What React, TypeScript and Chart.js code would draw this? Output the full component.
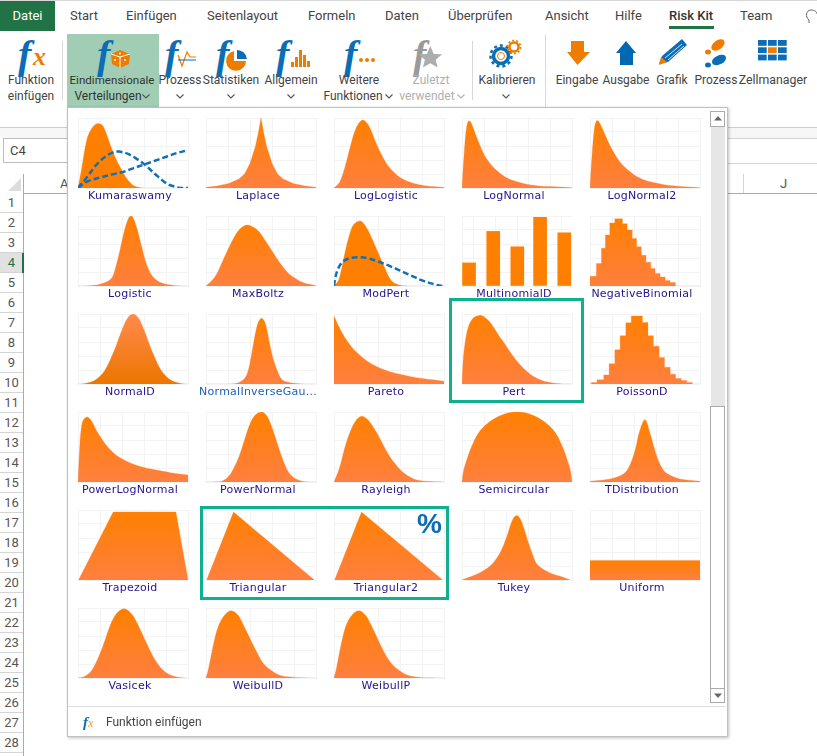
import React, { useEffect, useRef } from "react";
import { Chart, registerables } from "chart.js";

Chart.register(...registerables);

const kumaraswamyX = [0, 3, 8, 12, 16, 19, 23, 30, 35, 40, 45, 50, 55, 60, 100];
const kumaraswamyY = [0, 25, 69, 84, 91, 92, 88, 59, 40, 25, 12, 4, 1, 0, 0];
const kumaraBlueAX = [0, 8, 16, 25, 32, 37, 45, 53, 61, 70, 81, 88, 93, 100];
const kumaraBlueAY = [0, 15, 32, 45, 51, 52, 49, 42, 33, 20, 6, 2, 0, 0];
const kumaraBlueBX = [0, 8, 20, 30, 41, 50, 61, 70, 81, 90, 100];
const kumaraBlueBY = [0, 9, 15, 19, 23, 28, 34, 39, 45, 50, 54];

const laplaceX = [0, 10, 20, 30, 35, 40, 45, 48, 50, 52, 55, 60, 65, 70, 80, 90, 100];
const laplaceY = [1, 3, 6, 13, 20, 35, 60, 82, 100, 82, 60, 35, 20, 13, 6, 3, 1];
const logLogisticX = [0, 5, 10, 15, 20, 26, 32, 38, 45, 50, 60, 70, 80, 90, 100];
const logLogisticY = [0, 8, 30, 60, 85, 97, 88, 65, 42, 30, 15, 8, 4, 2, 1];
const logNormalX = [0, 2, 4, 6, 8, 12, 16, 20, 25, 30, 40, 50, 60, 70, 80, 100];
const logNormalY = [0, 50, 85, 96, 94, 78, 62, 48, 36, 27, 15, 9, 5, 3, 2, 0.5];
const logNormal2X = [0, 2, 4, 6, 8, 12, 16, 20, 25, 30, 40, 50, 60, 70, 80, 100];
const logNormal2Y = [0, 50, 85, 96, 95, 82, 68, 55, 42, 32, 19, 11, 7, 4, 2.5, 0.5];

const logisticX = [0, 10, 20, 30, 34, 38, 42, 46, 48, 50, 54, 58, 62, 66, 70, 75, 80, 90, 100];
const logisticY = [0, 0.5, 2.5, 10, 25, 50, 78, 97, 100, 98, 80, 55, 32, 18, 10, 5, 2.5, 0.5, 0];
const maxBoltzX = [0, 5, 10, 15, 20, 25, 30, 37, 45, 50, 55, 60, 65, 70, 75, 80, 85, 90, 95, 100];
const maxBoltzY = [0, 7, 18, 35, 52, 68, 80, 87, 82, 74, 62, 50, 38, 27, 18, 12, 7, 4, 2, 0.5];
const modPertX = [0, 4, 7, 10, 14, 18, 24, 28, 33, 40, 45, 52, 60, 70, 100];
const modPertY = [0, 8, 25, 48, 73, 88, 93, 87, 73, 48, 30, 8, 1, 0, 0];
const modPertBlueX = [0, 1, 3, 6, 10, 15, 24, 32, 40, 50, 60, 70, 80, 90, 98, 100];
const modPertBlueY = [0, 10, 22, 31, 37, 40, 41, 39, 35, 29, 22, 15, 8, 3, 0, 0];
const multinomialX = [6.4, 28.4, 50.3, 71, 93];
const multinomialY = [33, 78, 56, 98, 76];
const negBinomialX = [0, 5.8, 10.4, 14, 18, 22.5, 29.5, 33.8, 38.4, 42.4, 46.6, 50.9, 55.2, 59.1, 63.7, 68.3, 72.8, 77.7, 100];
const negBinomialY = [14, 32, 54, 73, 90, 96, 89, 80, 68, 56, 44, 34, 25, 18, 13, 8, 5, 0, 0];

const normalDX = [0, 5, 10, 15, 20, 25, 30, 35, 40, 45, 50, 55, 60, 65, 70, 75, 80, 85, 90, 95, 100];
const normalDY = [0, 0.4, 2, 5, 11, 21, 37, 56, 77, 94, 100, 94, 77, 56, 37, 21, 11, 5, 2, 0.4, 0];
const normalInvGauX = [0, 20, 28, 33, 37, 40, 43, 47, 50.6, 54, 58, 61, 64, 67, 70, 75, 80, 90, 100];
const normalInvGauY = [0, 0, 1, 5, 13, 30, 56, 86, 94, 86, 56, 36, 22, 11, 5, 2.5, 1, 0, 0];
const paretoX = [0, 5, 10, 15, 20, 30, 40, 50, 60, 70, 80, 90, 100];
const paretoY = [97, 80, 66, 55, 46, 33, 24, 18, 14, 10.5, 8, 6, 4];
const pertX = [0, 1, 2.5, 5.5, 10, 16, 20, 25, 30, 34, 39, 44, 53, 62, 71, 80, 89, 100];
const pertY = [0, 32, 55, 80, 94, 98, 96, 89, 78, 68, 57, 45, 27, 14, 6, 2, 0.5, 0];
const poissonDX = [0, 1.2, 6.4, 12.5, 17.4, 22.6, 27.4, 32.6, 37.5, 47.6, 52.7, 57.6, 62.8, 67.7, 72.9, 77.8, 83, 88, 93, 100];
const poissonDY = [0, 2, 6, 13, 29, 49, 69, 87.5, 97, 88, 69, 54, 38, 24, 14, 8, 5, 2, 0, 0];

const powerLogNormalX = [0, 1.5, 3, 5, 8.5, 12, 17, 21, 25, 30, 35, 45, 55, 65, 75, 85, 100];
const powerLogNormalY = [0, 48, 77, 89, 93, 88, 73, 63, 54, 45, 38, 29, 23, 19, 16, 13, 10];
const powerNormalX = [0, 10, 15, 20, 25, 30, 35, 40, 45, 50.6, 55, 60, 65, 70, 75, 80, 85, 90, 100];
const powerNormalY = [0, 0.3, 1.5, 7, 19, 36, 60, 83, 96, 100, 95, 78, 54, 31, 14, 6, 2, 0.5, 0];
const rayleighX = [0, 5, 10, 15, 20, 25, 30, 35, 40, 45, 50, 55, 60, 65, 70, 75, 85, 100];
const rayleighY = [0, 20, 50, 73, 88, 94, 90, 80, 67, 52, 38, 27, 18, 11, 6.5, 3, 1, 0];
const semicircularX = [0, 1, 2, 4, 7, 10, 13, 18, 25, 30, 35, 40, 45, 50, 55, 60, 65, 70, 75, 82, 87, 90, 93, 96, 98, 99, 100];
const semicircularY = [0, 12, 20, 30, 44, 55, 65, 76, 86, 91, 95, 98, 99.5, 100, 99.5, 98, 95, 91, 86, 76, 65, 55, 44, 30, 20, 12, 0];
const tDistributionX = [0, 10, 20, 30, 35, 41, 45, 50, 54.5, 60, 65, 70, 80, 90, 100];
const tDistributionY = [1, 2.5, 5, 11, 20, 45, 72, 89, 70, 40, 21, 12, 5, 2.5, 1];

const trapezoidX = [0.5, 32, 89, 100];
const trapezoidY = [0, 97, 97, 0];
const triangularX = [0.6, 25, 98.5];
const triangularY = [0, 97, 0];
const triangular2X = [0.6, 25, 98.8];
const triangular2Y = [0, 97, 0];
const tukeyX = [0.3, 10, 19, 27, 35, 40.5, 44, 47, 50, 53, 56, 60, 65, 69, 80, 90, 98.5];
const tukeyY = [0.5, 6, 13, 22, 40, 61, 78, 89, 92, 87, 75, 55, 33, 21, 10, 5, 0];
const uniformX = [0, 100];
const uniformY = [28, 28];

const vasicekX = [0, 4, 11, 17, 23, 29, 35, 42, 49, 56, 64, 72, 79, 87, 94.5, 100];
const vasicekY = [0, 1, 8, 24, 47, 74, 92, 99, 91, 71, 44, 21, 9, 2.5, 0.5, 0];
const weibullDX = [0, 2, 6.4, 11, 17, 23, 29, 33, 37, 44.5, 52, 60, 67, 76.5, 86, 100];
const weibullDY = [0, 11, 45, 73, 90, 96, 90, 79, 66, 42, 21, 10, 4, 1.5, 0.3, 0];
const weibullPX = [0, 2, 6.4, 11, 17, 23, 29, 33, 37, 44.5, 52, 60, 67, 76.5, 86, 100];
const weibullPY = [0, 12, 47, 75, 91, 96, 89, 78, 65, 40, 21, 10, 4, 1.2, 0.3, 0];

const tabNames = ["Start", "Einfügen", "Seitenlayout", "Formeln", "Daten", "Überprüfen", "Ansicht", "Hilfe", "Risk Kit", "Team"];
const tabLefts = [70, 126, 207, 308, 385, 448, 545, 615, 669, 740];
const rowNumbers = Array.from({ length: 28 }, (_, i) => i + 1);

type Series = { x: number[]; y: number[] };
type Thumb = {
  name: string;
  main: Series;
  blue?: Series[];
  kind?: "step" | "bar";
  solid?: boolean;
  dark?: boolean;
  sharp?: boolean;
  linkColor?: string;
};

const thumbs: Thumb[] = [
  { name: "Kumaraswamy", main: { x: kumaraswamyX, y: kumaraswamyY }, solid: true, blue: [{ x: kumaraBlueAX, y: kumaraBlueAY }, { x: kumaraBlueBX, y: kumaraBlueBY }] },
  { name: "Laplace", main: { x: laplaceX, y: laplaceY }, sharp: true },
  { name: "LogLogistic", main: { x: logLogisticX, y: logLogisticY } },
  { name: "LogNormal", main: { x: logNormalX, y: logNormalY } },
  { name: "LogNormal2", main: { x: logNormal2X, y: logNormal2Y } },
  { name: "Logistic", main: { x: logisticX, y: logisticY } },
  { name: "MaxBoltz", main: { x: maxBoltzX, y: maxBoltzY } },
  { name: "ModPert", main: { x: modPertX, y: modPertY }, solid: true, blue: [{ x: modPertBlueX, y: modPertBlueY }] },
  { name: "MultinomialD", main: { x: multinomialX, y: multinomialY }, kind: "bar", solid: true },
  { name: "NegativeBinomial", main: { x: negBinomialX, y: negBinomialY }, kind: "step" },
  { name: "NormalD", main: { x: normalDX, y: normalDY }, dark: true },
  { name: "NormalInverseGau...", main: { x: normalInvGauX, y: normalInvGauY }, linkColor: "#1f5fb5" },
  { name: "Pareto", main: { x: paretoX, y: paretoY } },
  { name: "Pert", main: { x: pertX, y: pertY } },
  { name: "PoissonD", main: { x: poissonDX, y: poissonDY }, kind: "step" },
  { name: "PowerLogNormal", main: { x: powerLogNormalX, y: powerLogNormalY } },
  { name: "PowerNormal", main: { x: powerNormalX, y: powerNormalY } },
  { name: "Rayleigh", main: { x: rayleighX, y: rayleighY } },
  { name: "Semicircular", main: { x: semicircularX, y: semicircularY } },
  { name: "TDistribution", main: { x: tDistributionX, y: tDistributionY } },
  { name: "Trapezoid", main: { x: trapezoidX, y: trapezoidY } },
  { name: "Triangular", main: { x: triangularX, y: triangularY } },
  { name: "Triangular2", main: { x: triangular2X, y: triangular2Y } },
  { name: "Tukey", main: { x: tukeyX, y: tukeyY } },
  { name: "Uniform", main: { x: uniformX, y: uniformY } },
  { name: "Vasicek", main: { x: vasicekX, y: vasicekY } },
  { name: "WeibullD", main: { x: weibullDX, y: weibullDY } },
  { name: "WeibullP", main: { x: weibullPX, y: weibullPY } },
];

const points = (s: Series) => s.x.map((x, i) => ({ x, y: s.y[i] }));

function Thumbnail({ t }: { t: Thumb }) {
  const ref = useRef<HTMLCanvasElement | null>(null);
  useEffect(() => {
    const canvas = ref.current!;
    const ctx = canvas.getContext("2d")!;
    const top = 1 + 70 * (1 - Math.max(...t.main.y) / 100);
    const grad = ctx.createLinearGradient(0, top, 0, 71);
    if (t.dark) {
      grad.addColorStop(0, "#FF8A4C");
      grad.addColorStop(1, "#EC7600");
    } else {
      grad.addColorStop(0, "#FF8000");
      grad.addColorStop(1, "#FF7F40");
    }
    const fillColor = t.solid ? "#FF8000" : grad;
    const datasets: any[] = [];
    (t.blue || []).forEach((b) =>
      datasets.push({
        type: "line",
        data: points(b),
        borderColor: "#1270B5",
        borderWidth: 2.5,
        borderDash: [6, 3],
        pointRadius: 0,
        fill: false,
        tension: 0.35,
        order: 0,
      })
    );
    if (t.kind === "bar") {
      datasets.push({ type: "bar", data: points(t.main), backgroundColor: fillColor, barThickness: 13, order: 1 });
    } else {
      datasets.push({
        type: "line",
        data: points(t.main),
        backgroundColor: fillColor,
        borderColor: "rgba(255,128,30,0.3)",
        borderWidth: 1,
        pointRadius: 0,
        fill: "origin",
        stepped: t.kind === "step" ? "before" : false,
        tension: t.kind === "step" || t.sharp || t.main.x.length < 5 ? 0 : 0.35,
        order: 1,
      });
    }
    const grid = { color: "#f3f3f3", lineWidth: 1, drawTicks: false };
    const chart = new Chart(canvas, {
      type: "line",
      data: { datasets },
      options: {
        animation: false,
        responsive: false,
        devicePixelRatio: 1,
        layout: { padding: 1 },
        plugins: { legend: { display: false }, tooltip: { enabled: false } },
        scales: {
          x: { type: "linear", min: 0, max: 100, offset: false, ticks: { display: false, stepSize: 20 }, grid, border: { color: "#f3f3f3" } },
          y: { type: "linear", min: 0, max: 100, ticks: { display: false, stepSize: 20 }, grid, border: { color: "#f3f3f3" } },
        },
      },
    } as any);
    return () => chart.destroy();
  }, [t]);
  return <canvas ref={ref} width={112} height={72} style={{ width: 112, height: 72, display: "block" }} />;
}

const UI = "Roboto, 'Noto Sans', sans-serif";
const abs = (left: number, top: number, extra: React.CSSProperties = {}): React.CSSProperties => ({ position: "absolute", left, top, ...extra });

function Txt({ cx, y, children, color = "#444", size = 12 }: { cx: number; y: number; children: React.ReactNode; color?: string; size?: number }) {
  return (
    <div style={{ position: "absolute", left: cx - 70, width: 140, top: y - 10, height: 20, lineHeight: "20px", textAlign: "center", fontFamily: UI, fontSize: size, color, whiteSpace: "nowrap" }}>
      {children}
    </div>
  );
}

function Fn({ x, y, size = 40, color = "#0B6DB5" }: { x: number; y: number; size?: number; color?: string }) {
  return (
    <div style={{ position: "absolute", left: x, top: y, fontFamily: "'Liberation Serif', serif", fontStyle: "italic", fontWeight: 700, fontSize: size, lineHeight: `${size}px`, color }}>f</div>
  );
}

function Chevron({ cx, y, color = "#555" }: { cx: number; y: number; color?: string }) {
  return (
    <svg style={abs(cx - 4, y - 2)} width={8} height={5}>
      <path d="M0.5 0.5 L4 4 L7.5 0.5" fill="none" stroke={color} strokeWidth={1.1} />
    </svg>
  );
}

function Icons() {
  return (
    <svg style={abs(0, 0)} width={817} height={110}>
      {/* dice */}
      <path d="M111 54 L120 50 L130 54 L129 64 L120 68 L112 64 Z" fill="#EE7C00" />
      <path d="M120 57 L120 68 M111 54 L120 57 L130 54" stroke="#fff" strokeWidth={1} fill="none" />
      <circle cx={120} cy={53.5} r={1} fill="#fff" /><circle cx={115} cy={60} r={1} fill="#fff" /><circle cx={125} cy={60} r={1} fill="#fff" />
      {/* process */}
      <path d="M178 55 L182 66 L187 52 L190 57 L196 57" fill="none" stroke="#EE7C00" strokeWidth={1.2} />
      <path d="M178 60 L196 60" stroke="#0B6DB5" strokeWidth={1} />
      {/* pie */}
      <path d="M234 51 A10 10 0 1 0 246 61 L234 61 Z" fill="#EE7C00" />
      <path d="M237 50 A10 10 0 0 1 247 59 L237 59 Z" fill="#0B6DB5" />
      {/* bars */}
      {[[291, 62, 5], [295, 57, 10], [299, 50, 17], [303, 55, 12], [296 + 11, 61, 6]].map(([x, y, h], i) => (
        <rect key={i} x={x} y={y} width={3} height={h} fill="#EE7C00" />
      ))}
      {/* dots */}
      {[361, 367, 373].map((x) => <circle key={x} cx={x} cy={60} r={2} fill="#EE7C00" />)}
      {/* star */}
      <path d="M435 48 L438.5 56 L447 56.5 L440.5 62 L442.5 70 L435 65.5 L427.5 70 L429.5 62 L423 56.5 L431.5 56 Z" fill="#ADADAD" transform="translate(4,-1) scale(0.98)" />
      {/* gears */}
      <circle cx={501} cy={56} r={7.5} fill="none" stroke="#0B6DB5" strokeWidth={3.5} />
      <circle cx={501} cy={56} r={10.5} fill="none" stroke="#0B6DB5" strokeWidth={2.5} strokeDasharray="3 3" />
      <circle cx={501} cy={56} r={3.5} fill="none" stroke="#EE7C00" strokeWidth={1} />
      <circle cx={514} cy={47} r={4.5} fill="none" stroke="#EE7C00" strokeWidth={2.5} />
      <circle cx={514} cy={47} r={6.5} fill="none" stroke="#EE7C00" strokeWidth={1.8} strokeDasharray="2 2" />
      {/* arrows */}
      <path d="M571 41 H584 V52 H590 L577.5 65 L567 52 H571 Z" fill="#EE7C00" />
      <path d="M620 65 H633 V53 H636 L626 41 L616 53 H620 Z" fill="#0068B3" />
      {/* pencil */}
      <path d="M659 64 L662 56 L682 39 L687 45 L668 62 Z" fill="#0B6DB5" />
      <path d="M659 65 L661 57 L667 62 Z" fill="#EE7C00" />
      <path d="M665 58 L682 44 M668 60 L684 46" stroke="#fff" strokeWidth={0.8} />
      {/* steps */}
      <ellipse cx={718} cy={45} rx={7.5} ry={4.5} fill="#EE7C00" transform="rotate(-35 718 45)" />
      <ellipse cx={708} cy={52} rx={3} ry={2.5} fill="#EE7C00" />
      <ellipse cx={719} cy={60} rx={7.5} ry={4.5} fill="#0B6DB5" transform="rotate(-25 719 60)" />
      <ellipse cx={708} cy={65} rx={3} ry={2.5} fill="#0B6DB5" />
      {/* grid */}
      {[0, 1, 2].map((c) => [0, 1, 2].map((r) => (
        <rect key={`${c}${r}`} x={758 + c * 10} y={40 + r * 7.3} width={8.7} height={5.8} fill={c === 1 && r === 1 ? "#EE7C00" : "#0B6DB5"} />
      )))}
      {/* bulb */}
      <path d="M809 23 V20 C805 17 806 10 811 10 C815 10 817 12 817 14" fill="none" stroke="#666" strokeWidth={1} />
    </svg>
  );
}

export default function App() {
  const cols = [78, 206, 334, 462, 590];
  const rows = [118, 216, 314, 412, 510, 608];
  return (
    <div style={{ position: "fixed", left: 0, top: 0, width: 817, height: 756, overflow: "hidden", background: "#fff" }}>
      {/* tab bar */}
      <div style={abs(0, 0, { width: 817, height: 1, background: "#d8d8d8" })} />
      <div style={abs(0, 1, { width: 55, height: 30, background: "#217346", color: "#fff", fontFamily: UI, fontSize: 13, lineHeight: "30px", textAlign: "center" })}>Datei</div>
      {tabNames.map((n, i) => (
        <div key={n} style={abs(tabLefts[i], 6, { fontFamily: UI, fontSize: 13, lineHeight: "20px", color: i === 8 ? "#333" : "#444", fontWeight: i === 8 ? 500 : 400, whiteSpace: "nowrap" })}>{n}</div>
      ))}
      <div style={abs(669, 26, { width: 45, height: 2.5, background: "#217346" })} />

      {/* ribbon */}
      <div style={abs(67, 34, { width: 92, height: 74, background: "#A0CDB3" })} />
      <div style={abs(62, 41, { width: 1, height: 59, background: "#d8d8d8" })} />
      <div style={abs(472, 41, { width: 1, height: 59, background: "#d8d8d8" })} />
      <div style={abs(545, 35, { width: 1, height: 72, background: "#d8d8d8" })} />
      <div style={abs(0, 127, { width: 817, height: 1, background: "#cfcfcf" })} />
      <div style={abs(0, 128, { width: 817, height: 10, background: "#f7f7f7" })} />

      <Fn x={18} y={35} />
      <div style={abs(33, 44, { fontFamily: "'Liberation Serif', serif", fontStyle: "italic", fontWeight: 700, fontSize: 26, lineHeight: "26px", color: "#EE7C00" })}>x</div>
      <Fn x={97} y={35} />
      <Fn x={165} y={35} />
      <Fn x={216} y={35} />
      <Fn x={276} y={35} />
      <Fn x={344} y={35} />
      <Fn x={413} y={35} color="#9a9a9a" />
      <Icons />

      <Txt cx={31} y={80}>Funktion</Txt>
      <Txt cx={31} y={96}>einfügen</Txt>
      <Txt cx={112} y={80} color="#333" size={11.6}>Eindimensionale</Txt>
      <Txt cx={108} y={96} color="#333">Verteilungen</Txt>
      <Chevron cx={146} y={96} />
      <Txt cx={180} y={80}>Prozess</Txt>
      <Chevron cx={180} y={96} />
      <Txt cx={231} y={80}>Statistiken</Txt>
      <Chevron cx={231} y={96} />
      <Txt cx={291} y={80}>Allgemein</Txt>
      <Chevron cx={291} y={96} />
      <Txt cx={359} y={80}>Weitere</Txt>
      <Txt cx={353} y={96}>Funktionen</Txt>
      <Chevron cx={389} y={96} />
      <Txt cx={431} y={80} color="#b0b0b0">Zuletzt</Txt>
      <Txt cx={427} y={96} color="#b0b0b0">verwendet</Txt>
      <Chevron cx={461} y={96} color="#b0b0b0" />
      <Txt cx={507} y={80}>Kalibrieren</Txt>
      <Chevron cx={506} y={96} />
      <Txt cx={577} y={80}>Eingabe</Txt>
      <Txt cx={626} y={80}>Ausgabe</Txt>
      <Txt cx={672} y={80}>Grafik</Txt>
      <Txt cx={716} y={80}>Prozess</Txt>
      <Txt cx={773} y={80} size={12.3}>Zellmanager</Txt>

      {/* sheet */}
      <div style={abs(3, 138, { width: 70, height: 25, border: "1px solid #bdbdbd", boxSizing: "border-box", background: "#fff", fontFamily: UI, fontSize: 13, color: "#444", lineHeight: "23px", paddingLeft: 6 })}>C4</div>
      <div style={abs(728, 138, { width: 89, height: 1, background: "#d4d4d4" })} />
      <div style={abs(728, 163, { width: 89, height: 1, background: "#d4d4d4" })} />
      <div style={abs(0, 193, { width: 817, height: 1, background: "#ababab" })} />
      <div style={abs(23, 174, { width: 1, height: 582, background: "#ababab" })} />
      <svg style={abs(8, 178)} width={13} height={13}><path d="M13 0 V13 H0 Z" fill="#dcdcdc" /></svg>
      <div style={abs(60, 175, { fontFamily: UI, fontSize: 13, color: "#555", lineHeight: "18px" })}>A</div>
      <div style={abs(743, 174, { width: 1, height: 19, background: "#d4d4d4" })} />
      <div style={abs(780, 175, { fontFamily: UI, fontSize: 13, color: "#555", lineHeight: "18px" })}>J</div>
      {rowNumbers.map((n) => (
        <div key={n} style={abs(0, 193 + (n - 1) * 20, { width: 23, height: 20, boxSizing: "border-box", borderBottom: "1px solid #d4d4d4", background: n === 4 ? "#e1e1e1" : "#fff", color: n === 4 ? "#217346" : "#555", fontFamily: UI, fontSize: 13, lineHeight: "20px", textAlign: "center" })}>{n}</div>
      ))}
      <div style={abs(22, 253, { width: 2, height: 20, background: "#217346" })} />

      {/* gallery */}
      <div style={abs(67, 107, { width: 661, height: 630, boxSizing: "border-box", background: "#fff", border: "1px solid #c0c0c0", boxShadow: "1px 1px 3px rgba(0,0,0,0.25)" })} />
      {thumbs.map((t, i) => {
        const c = cols[i % 5];
        const r = rows[Math.floor(i / 5)];
        return (
          <React.Fragment key={t.name}>
            <div style={abs(c - 1, r - 1)}><Thumbnail t={t} /></div>
            <div style={abs(c - 20, r + 70, { width: 144, textAlign: "center", fontFamily: "'DejaVu Sans', Verdana, sans-serif", fontSize: 11, lineHeight: "15px", letterSpacing: 0.25, color: t.linkColor || "#25128c", whiteSpace: "nowrap" })}>{t.name}</div>
          </React.Fragment>
        );
      })}
      <div style={abs(417, 509, { fontFamily: "'Liberation Sans', Arial, sans-serif", fontWeight: 700, fontSize: 28, lineHeight: "30px", color: "#0B6DB5" })}>%</div>

      {/* highlights */}
      <div style={abs(449, 298, { width: 135, height: 105, boxSizing: "border-box", border: "3px solid #0FB08F" })} />
      <div style={abs(200, 506, { width: 249, height: 94, boxSizing: "border-box", border: "3px solid #0FB08F" })} />

      {/* scrollbar */}
      <div style={abs(711, 126, { width: 14, height: 280, background: "#e6e6e6" })} />
      <div style={abs(710, 111, { width: 15, height: 16, boxSizing: "border-box", border: "1px solid #ababab", background: "#fff" })} />
      <svg style={abs(713, 115)} width={10} height={7}><path d="M5 1 L9 5.5 H1 Z" fill="#666" /></svg>
      <div style={abs(710, 406, { width: 15, height: 283, boxSizing: "border-box", border: "1px solid #ababab", background: "#fff" })} />
      <div style={abs(710, 688, { width: 15, height: 15, boxSizing: "border-box", border: "1px solid #ababab", background: "#fff" })} />
      <svg style={abs(713, 692)} width={10} height={7}><path d="M5 6 L9 1.5 H1 Z" fill="#666" /></svg>

      {/* footer */}
      <div style={abs(68, 706, { width: 658, height: 1, background: "#e0e0e0" })} />
      <div style={abs(83, 713, { fontFamily: "'Liberation Serif', serif", fontStyle: "italic", fontWeight: 700, fontSize: 15, lineHeight: "18px", color: "#0B6DB5" })}>f<span style={{ color: "#EE9A40", fontWeight: 400, fontSize: 12 }}>x</span></div>
      <div style={abs(106, 713, { fontFamily: UI, fontSize: 12, lineHeight: "18px", color: "#444" })}>Funktion einfügen</div>
    </div>
  );
}
